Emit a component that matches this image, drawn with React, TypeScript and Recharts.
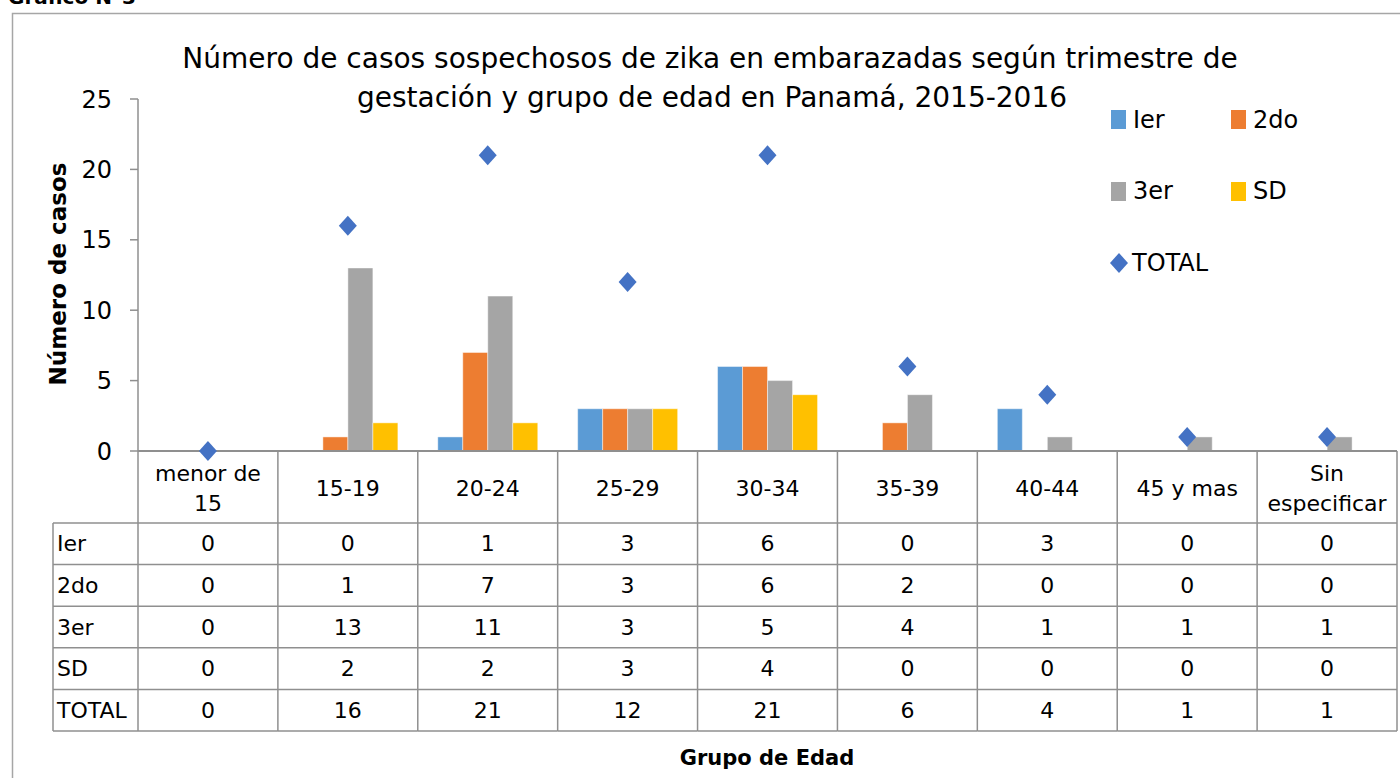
import { ComposedChart, Bar, Line, XAxis, YAxis, Legend } from 'recharts'

// Datos del gráfico: casos sospechosos de zika en embarazadas, Panamá 2015-2016
const grupos = ['menor de 15', '15-19', '20-24', '25-29', '30-34', '35-39', '40-44', '45 y mas', 'Sin especificar']
const ier = [0, 0, 1, 3, 6, 0, 3, 0, 0]
const segundo = [0, 1, 7, 3, 6, 2, 0, 0, 0]
const tercer = [0, 13, 11, 3, 5, 4, 1, 1, 1]
const sd = [0, 2, 2, 3, 4, 0, 0, 0, 0]
const total = [0, 16, 21, 12, 21, 6, 4, 1, 1]
const yTicks = [0, 5, 10, 15, 20, 25]

const series = [
  { key: 'ier', name: 'Ier', color: '#5B9BD5', values: ier },
  { key: 'segundo', name: '2do', color: '#ED7D31', values: segundo },
  { key: 'tercer', name: '3er', color: '#A5A5A5', values: tercer },
  { key: 'sd', name: 'SD', color: '#FFC000', values: sd },
  { key: 'total', name: 'TOTAL', color: '#4472C4', values: total },
]

const data = grupos.map((g, i) => ({
  grupo: g,
  ier: ier[i],
  segundo: segundo[i],
  tercer: tercer[i],
  sd: sd[i],
  total: total[i],
}))

const FONT = '"DejaVu Sans", Verdana, sans-serif'
const W = 1400
const H = 778
const LEFT = 138
const RIGHT = 3
const TOP = 99
const AXIS_Y = 451
const COL_W = (W - LEFT - RIGHT) / grupos.length
const HEAD_H = 72
const ROW_H = 41.6
const LABEL_X0 = 53
const LINE = '#8f8f8f'

function splitLabel(s: string): string[] {
  if (s.length <= 9) return [s]
  const k = s.lastIndexOf(' ')
  return [s.slice(0, k), s.slice(k + 1)]
}

// cada tick del eje X dibuja su columna de la tabla de datos
function TableColumn(props: any) {
  const { x, index, payload } = props
  const left = x - COL_W / 2
  const right = x + COL_W / 2
  const top = AXIS_Y
  const bodyTop = top + HEAD_H
  const bottom = bodyTop + ROW_H * series.length
  const lines = splitLabel(String(payload.value))
  const headMid = top + HEAD_H / 2 + 1

  return (
    <g>
      {index === 0 && (
        <g>
          <line x1={left} y1={top} x2={left} y2={bottom} stroke={LINE} strokeWidth={1.5} />
          <line x1={LABEL_X0} y1={bodyTop} x2={LABEL_X0} y2={bottom} stroke={LINE} strokeWidth={1.5} />
          {series.map((s, r) => (
            <g key={s.key}>
              <line x1={LABEL_X0} y1={bodyTop + r * ROW_H} x2={left} y2={bodyTop + r * ROW_H} stroke={LINE} strokeWidth={1.5} />
              <text x={LABEL_X0 + 4} y={bodyTop + r * ROW_H + ROW_H / 2} dominantBaseline="central" fontSize={22} fontFamily={FONT} fill="#000">
                {s.name}
              </text>
            </g>
          ))}
          <line x1={LABEL_X0} y1={bottom} x2={left} y2={bottom} stroke={LINE} strokeWidth={1.5} />
        </g>
      )}
      <line x1={right} y1={top} x2={right} y2={bottom} stroke={LINE} strokeWidth={1.5} />
      {lines.map((t, i) => (
        <text
          key={i}
          x={x}
          y={headMid + (i - (lines.length - 1) / 2) * 30}
          textAnchor="middle"
          dominantBaseline="central"
          fontSize={22}
          fontFamily={FONT}
          fill="#000"
        >
          {t}
        </text>
      ))}
      {series.map((s, r) => (
        <g key={s.key}>
          <line x1={left} y1={bodyTop + r * ROW_H} x2={right} y2={bodyTop + r * ROW_H} stroke={LINE} strokeWidth={1.5} />
          <text x={x} y={bodyTop + r * ROW_H + ROW_H / 2} textAnchor="middle" dominantBaseline="central" fontSize={22} fontFamily={FONT} fill="#000">
            {s.values[index]}
          </text>
        </g>
      ))}
      <line x1={left} y1={bottom} x2={right} y2={bottom} stroke={LINE} strokeWidth={1.5} />
    </g>
  )
}

function Diamond(props: any) {
  const { cx, cy } = props
  if (cx == null || cy == null) return <g />
  return <path d={`M${cx},${cy - 10} L${cx + 9},${cy} L${cx},${cy + 10} L${cx - 9},${cy} Z`} fill="#4472C4" />
}

function LegendBox() {
  return (
    <div
      style={{
        display: 'grid',
        gridTemplateColumns: '120px 120px',
        gridAutoRows: '71.5px',
        alignItems: 'center',
        fontFamily: FONT,
        fontSize: 24,
        color: '#000',
      }}
    >
      {series.map(s => (
        <div key={s.key} style={{ display: 'flex', alignItems: 'center' }}>
          {s.key === 'total' ? (
            <svg width={18} height={20} style={{ marginRight: 4, marginLeft: -1 }}>
              <path d="M9,0 L18,10 L9,20 L0,10 Z" fill={s.color} />
            </svg>
          ) : (
            <span style={{ width: 15, height: 19, background: s.color, display: 'inline-block', marginRight: 7 }} />
          )}
          <span>{s.name}</span>
        </div>
      ))}
    </div>
  )
}

export default function App() {
  return (
    <div style={{ position: 'absolute', left: 0, top: 0, width: W, height: H, background: '#fff', overflow: 'hidden' }}>
      <svg width={W} height={H} style={{ position: 'absolute', left: 0, top: 0 }}>
        <text x={8} y={4} fontSize={20} fontWeight="bold" fontFamily={FONT} fill="#000">Gráfico N°3</text>
        <path d={`M12.5,${H} L12.5,13.5 L${W},13.5`} fill="none" stroke="#a6a6a6" strokeWidth={1.5} />
        <text x={710} y={68} textAnchor="middle" fontSize={28} fontFamily={FONT} fill="#000">
          Número de casos sospechosos de zika en embarazadas según trimestre de
        </text>
        <text x={712} y={107} textAnchor="middle" fontSize={28} fontFamily={FONT} fill="#000">
          gestación y grupo de edad en Panamá, 2015-2016
        </text>
        <text x={66} y={274} transform="rotate(-90 66 274)" textAnchor="middle" fontSize={23} fontWeight="bold" fontFamily={FONT} fill="#000">
          Número de casos
        </text>
        <text x={767} y={765} textAnchor="middle" fontSize={21} fontWeight="bold" fontFamily={FONT} fill="#000">
          Grupo de Edad
        </text>
      </svg>
      <div style={{ position: 'absolute', left: 0, top: 0 }}>
        <ComposedChart
          width={W}
          height={H}
          data={data}
          margin={{ top: TOP, right: RIGHT, bottom: 0, left: 0 }}
          barCategoryGap={20}
          barGap={0}
        >
          <XAxis
            dataKey="grupo"
            height={H - AXIS_Y}
            interval={0}
            tickSize={0}
            tickMargin={0}
            tickLine={false}
            axisLine={{ stroke: LINE, strokeWidth: 2 }}
            tick={<TableColumn />}
          />
          <YAxis
            width={LEFT}
            domain={[0, 25]}
            ticks={yTicks}
            interval={0}
            tickSize={8}
            tickMargin={18}
            axisLine={{ stroke: LINE, strokeWidth: 1.5 }}
            tickLine={{ stroke: LINE, strokeWidth: 1.5 }}
            tick={{ fill: '#000', fontSize: 24, fontFamily: FONT }}
          />
          <Legend
            layout="horizontal"
            verticalAlign="middle"
            align="center"
            content={<LegendBox />}
            wrapperStyle={{ position: 'absolute', left: 1111, top: 84, width: 260 }}
          />
          {series.slice(0, 4).map(s => (
            <Bar key={s.key} dataKey={s.key} name={s.name} fill={s.color} stroke="#ffffff" strokeOpacity={0.45} isAnimationActive={false} />
          ))}
          <Line dataKey="total" name="TOTAL" stroke="none" dot={<Diamond />} activeDot={false} isAnimationActive={false} />
        </ComposedChart>
      </div>
    </div>
  )
}
